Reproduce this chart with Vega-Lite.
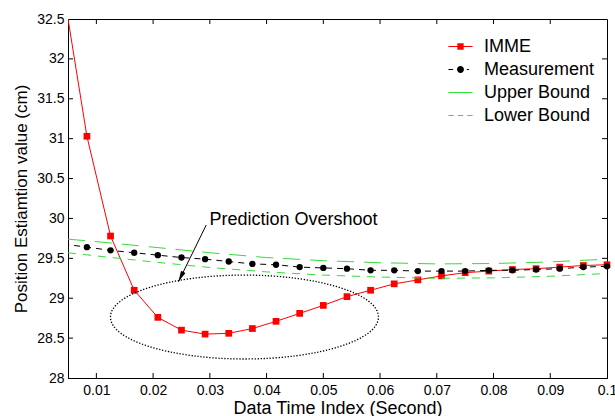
{
  "$schema": "https://vega.github.io/schema/vega-lite/v6.json",
  "width": 539,
  "height": 359,
  "autosize": {"type": "none"},
  "padding": {"left": 68, "top": 19, "right": 8, "bottom": 38},
  "background": "white",
  "config": {
    "font": "Liberation Sans",
    "view": {"stroke": "black", "strokeWidth": 1},
    "axis": {
      "domainColor": "black",
      "labelColor": "black",
      "titleColor": "black",
      "labelFontSize": 14,
      "titleFontSize": 17,
      "titleFontWeight": "normal",
      "ticks": false,
      "grid": false,
      "labelOverlap": false
    }
  },
  "datasets": {
    "series": [
      {"t": 0.004167, "v": 32.87, "s": "IMME"},
      {"t": 0.008333, "v": 31.03, "s": "IMME"},
      {"t": 0.0125, "v": 29.78, "s": "IMME"},
      {"t": 0.016667, "v": 29.10, "s": "IMME"},
      {"t": 0.020833, "v": 28.76, "s": "IMME"},
      {"t": 0.025, "v": 28.60, "s": "IMME"},
      {"t": 0.029167, "v": 28.55, "s": "IMME"},
      {"t": 0.033333, "v": 28.56, "s": "IMME"},
      {"t": 0.0375, "v": 28.62, "s": "IMME"},
      {"t": 0.041667, "v": 28.71, "s": "IMME"},
      {"t": 0.045833, "v": 28.81, "s": "IMME"},
      {"t": 0.05, "v": 28.91, "s": "IMME"},
      {"t": 0.054167, "v": 29.02, "s": "IMME"},
      {"t": 0.058333, "v": 29.10, "s": "IMME"},
      {"t": 0.0625, "v": 29.18, "s": "IMME"},
      {"t": 0.066667, "v": 29.23, "s": "IMME"},
      {"t": 0.070833, "v": 29.28, "s": "IMME"},
      {"t": 0.075, "v": 29.32, "s": "IMME"},
      {"t": 0.079167, "v": 29.34, "s": "IMME"},
      {"t": 0.083333, "v": 29.36, "s": "IMME"},
      {"t": 0.0875, "v": 29.37, "s": "IMME"},
      {"t": 0.091667, "v": 29.39, "s": "IMME"},
      {"t": 0.095833, "v": 29.41, "s": "IMME"},
      {"t": 0.1, "v": 29.42, "s": "IMME"},
      {"t": 0.004167, "v": 29.68, "s": "Measurement"},
      {"t": 0.008333, "v": 29.64, "s": "Measurement"},
      {"t": 0.0125, "v": 29.60, "s": "Measurement"},
      {"t": 0.016667, "v": 29.57, "s": "Measurement"},
      {"t": 0.020833, "v": 29.54, "s": "Measurement"},
      {"t": 0.025, "v": 29.51, "s": "Measurement"},
      {"t": 0.029167, "v": 29.49, "s": "Measurement"},
      {"t": 0.033333, "v": 29.46, "s": "Measurement"},
      {"t": 0.0375, "v": 29.43, "s": "Measurement"},
      {"t": 0.041667, "v": 29.42, "s": "Measurement"},
      {"t": 0.045833, "v": 29.39, "s": "Measurement"},
      {"t": 0.05, "v": 29.38, "s": "Measurement"},
      {"t": 0.054167, "v": 29.37, "s": "Measurement"},
      {"t": 0.058333, "v": 29.35, "s": "Measurement"},
      {"t": 0.0625, "v": 29.35, "s": "Measurement"},
      {"t": 0.066667, "v": 29.34, "s": "Measurement"},
      {"t": 0.070833, "v": 29.34, "s": "Measurement"},
      {"t": 0.075, "v": 29.34, "s": "Measurement"},
      {"t": 0.079167, "v": 29.35, "s": "Measurement"},
      {"t": 0.083333, "v": 29.35, "s": "Measurement"},
      {"t": 0.0875, "v": 29.36, "s": "Measurement"},
      {"t": 0.091667, "v": 29.37, "s": "Measurement"},
      {"t": 0.095833, "v": 29.39, "s": "Measurement"},
      {"t": 0.1, "v": 29.40, "s": "Measurement"},
      {"t": 0.005, "v": 29.74, "s": "Upper Bound"},
      {"t": 0.01, "v": 29.71, "s": "Upper Bound"},
      {"t": 0.02, "v": 29.64, "s": "Upper Bound"},
      {"t": 0.03, "v": 29.57, "s": "Upper Bound"},
      {"t": 0.04, "v": 29.51, "s": "Upper Bound"},
      {"t": 0.05, "v": 29.47, "s": "Upper Bound"},
      {"t": 0.06, "v": 29.445, "s": "Upper Bound"},
      {"t": 0.07, "v": 29.43, "s": "Upper Bound"},
      {"t": 0.08, "v": 29.435, "s": "Upper Bound"},
      {"t": 0.09, "v": 29.455, "s": "Upper Bound"},
      {"t": 0.1, "v": 29.49, "s": "Upper Bound"},
      {"t": 0.005, "v": 29.57, "s": "Lower Bound"},
      {"t": 0.01, "v": 29.53, "s": "Lower Bound"},
      {"t": 0.02, "v": 29.455, "s": "Lower Bound"},
      {"t": 0.03, "v": 29.385, "s": "Lower Bound"},
      {"t": 0.04, "v": 29.33, "s": "Lower Bound"},
      {"t": 0.05, "v": 29.29, "s": "Lower Bound"},
      {"t": 0.06, "v": 29.265, "s": "Lower Bound"},
      {"t": 0.07, "v": 29.25, "s": "Lower Bound"},
      {"t": 0.08, "v": 29.255, "s": "Lower Bound"},
      {"t": 0.09, "v": 29.275, "s": "Lower Bound"},
      {"t": 0.1, "v": 29.31, "s": "Lower Bound"}
    ],
    "xticks": [{"t": 0.01}, {"t": 0.02}, {"t": 0.03}, {"t": 0.04}, {"t": 0.05}, {"t": 0.06}, {"t": 0.07}, {"t": 0.08}, {"t": 0.09}],
    "yticks": [{"v": 28.5}, {"v": 29}, {"v": 29.5}, {"v": 30}, {"v": 30.5}, {"v": 31}, {"v": 31.5}, {"v": 32}],
    "ellipse": [{"t": 0.0361, "v": 28.764}],
    "arrow": [{"t": 0.02936, "v": 29.917, "t2": 0.02447, "v2": 29.207}],
    "head": [{"t": 0.02489, "v": 29.268}],
    "note": [{"t": 0.02994, "v": 29.92, "label": "Prediction Overshoot"}]
  },
  "resolve": {"axis": {"x": "independent", "y": "independent"}},
  "layer": [
    {
      "data": {"name": "series"},
      "transform": [{"filter": "datum.s === 'IMME'"}],
      "mark": {"type": "line", "color": "#ff0000", "strokeWidth": 1, "clip": true},
      "encoding": {
        "x": {"field": "t", "type": "quantitative", "scale": {"domain": [0.005, 0.1], "nice": false, "zero": false},
              "axis": {"orient": "bottom", "title": "Data Time Index (Second)", "titleFontSize": 18, "values": [0.01, 0.02, 0.03, 0.04, 0.05, 0.06, 0.07, 0.08, 0.09, 0.1], "format": "~g", "labelPadding": 5, "titlePadding": 2, "labelFlush": false, "labelOverlap": false}},
        "y": {"field": "v", "type": "quantitative", "scale": {"domain": [28, 32.5], "nice": false, "zero": false},
              "axis": {"orient": "left", "title": "Position Estiamtion value (cm)", "values": [28, 28.5, 29, 29.5, 30, 30.5, 31, 31.5, 32, 32.5], "format": "~g", "labelPadding": 4, "titlePadding": 6, "labelFlush": false, "labelOverlap": false}}
      }
    },
    {
      "data": {"name": "xticks"},
      "mark": {"type": "rule", "color": "#000000", "strokeWidth": 1},
      "encoding": {"x": {"field": "t", "type": "quantitative", "axis": null}, "y": {"datum": 28, "axis": null}, "y2": {"datum": 28.063}}
    },
    {
      "data": {"name": "xticks"},
      "mark": {"type": "rule", "color": "#000000", "strokeWidth": 1},
      "encoding": {"x": {"field": "t", "type": "quantitative", "axis": null}, "y": {"datum": 32.5, "axis": null}, "y2": {"datum": 32.437}}
    },
    {
      "data": {"name": "yticks"},
      "mark": {"type": "rule", "color": "#000000", "strokeWidth": 1},
      "encoding": {"y": {"field": "v", "type": "quantitative", "axis": null}, "x": {"datum": 0.005, "axis": null}, "x2": {"datum": 0.00588}}
    },
    {
      "data": {"name": "yticks"},
      "mark": {"type": "rule", "color": "#000000", "strokeWidth": 1},
      "encoding": {"y": {"field": "v", "type": "quantitative", "axis": null}, "x": {"datum": 0.1, "axis": null}, "x2": {"datum": 0.09912}}
    },
    {
      "data": {"name": "series"},
      "transform": [{"filter": "datum.s === 'IMME' && datum.t > 0.006"}],
      "mark": {"type": "point", "shape": "square", "filled": true, "color": "#ff0000", "opacity": 1, "size": 45},
      "encoding": {
        "x": {"field": "t", "type": "quantitative", "axis": null},
        "y": {"field": "v", "type": "quantitative", "axis": null}
      }
    },
    {
      "data": {"name": "series"},
      "transform": [{"filter": "datum.s === 'Measurement'"}],
      "mark": {"type": "line", "color": "#000000", "strokeWidth": 1, "strokeDash": [6, 5], "clip": true},
      "encoding": {
        "x": {"field": "t", "type": "quantitative", "axis": null},
        "y": {"field": "v", "type": "quantitative", "axis": null}
      }
    },
    {
      "data": {"name": "series"},
      "transform": [{"filter": "datum.s === 'Measurement' && datum.t > 0.006"}],
      "mark": {"type": "point", "shape": "circle", "filled": true, "color": "#000000", "opacity": 1, "size": 40},
      "encoding": {
        "x": {"field": "t", "type": "quantitative", "axis": null},
        "y": {"field": "v", "type": "quantitative", "axis": null}
      }
    },
    {
      "data": {"name": "series"},
      "transform": [{"filter": "datum.s === 'Upper Bound'"}],
      "mark": {"type": "line", "color": "#33dd33", "strokeWidth": 1, "strokeDash": [17, 10]},
      "encoding": {
        "x": {"field": "t", "type": "quantitative", "axis": null},
        "y": {"field": "v", "type": "quantitative", "axis": null}
      }
    },
    {
      "data": {"name": "series"},
      "transform": [{"filter": "datum.s === 'Lower Bound'"}],
      "mark": {"type": "line", "color": "#33dd33", "strokeWidth": 1, "strokeDash": [8, 7]},
      "encoding": {
        "x": {"field": "t", "type": "quantitative", "axis": null},
        "y": {"field": "v", "type": "quantitative", "axis": null}
      }
    },
    {
      "data": {"name": "ellipse"},
      "mark": {"type": "point", "shape": "M-1,0A1,0.313 0 1,1 1,0A1,0.313 0 1,1 -1,0Z", "size": 71824, "filled": false, "stroke": "#000000", "strokeWidth": 1.3, "strokeDash": [1.3, 1.7], "opacity": 1},
      "encoding": {
        "x": {"field": "t", "type": "quantitative", "axis": null},
        "y": {"field": "v", "type": "quantitative", "axis": null}
      }
    },
    {
      "data": {"name": "arrow"},
      "mark": {"type": "rule", "color": "#000000", "strokeWidth": 1},
      "encoding": {
        "x": {"field": "t", "type": "quantitative", "axis": null},
        "y": {"field": "v", "type": "quantitative", "axis": null},
        "x2": {"field": "t2"},
        "y2": {"field": "v2"}
      }
    },
    {
      "data": {"name": "head"},
      "mark": {"type": "point", "shape": "M0,-1L0.45,1L-0.45,1Z", "filled": true, "color": "#000000", "opacity": 1, "size": 120, "angle": 206},
      "encoding": {
        "x": {"field": "t", "type": "quantitative", "axis": null},
        "y": {"field": "v", "type": "quantitative", "axis": null}
      }
    },
    {
      "data": {"name": "note"},
      "mark": {"type": "text", "align": "left", "baseline": "alphabetic", "fontSize": 18, "color": "#000000"},
      "encoding": {
        "x": {"field": "t", "type": "quantitative", "axis": null},
        "y": {"field": "v", "type": "quantitative", "axis": null},
        "text": {"field": "label"}
      }
    },
    {
      "data": {"name": "series"},
      "transform": [{"filter": "false"}],
      "mark": {"type": "point", "filled": true, "opacity": 1},
      "encoding": {
        "x": {"field": "t", "type": "quantitative", "axis": null},
        "y": {"field": "v", "type": "quantitative", "axis": null},
        "color": {"field": "s", "type": "nominal",
                  "scale": {"domain": ["IMME", "Measurement", "Upper Bound", "Lower Bound"], "range": ["#ff0000", "#000000", "#33dd33", "#33dd33"]},
                  "legend": {"orient": "none", "legendX": 381, "legendY": 16, "title": null, "labelFontSize": 18, "labelColor": "#000000", "symbolSize": 441, "rowPadding": 2, "labelOffset": 12, "padding": 0,
                             "encode": {"symbols": {"update": {"fill": {"scale": "color", "field": "value"}, "opacity": {"value": 1}}}}}},
        "shape": {"field": "s", "type": "nominal",
                  "scale": {"domain": ["IMME", "Measurement", "Upper Bound", "Lower Bound"],
                            "range": ["M-1.15,-0.05H1.15V0.05H-1.15ZM-0.3,-0.3H0.3V0.3H-0.3Z", "M-1.15,-0.05H-0.7V0.05H-1.15ZM0.6,-0.05H0.8V0.05H0.6ZM-0.33,0A0.33,0.33 0 1,0 0.33,0A0.33,0.33 0 1,0 -0.33,0Z", "M-1.15,-0.05H1.15V0.05H-1.15Z", "M-1.15,-0.05H-0.65V0.05H-1.15ZM-0.25,-0.05H0.25V0.05H-0.25ZM0.65,-0.05H1.15V0.05H0.65Z"]},
                  "legend": {"orient": "none", "legendX": 381, "legendY": 16, "title": null, "labelFontSize": 18, "labelColor": "#000000", "symbolSize": 441, "rowPadding": 2, "labelOffset": 12, "padding": 0,
                             "encode": {"symbols": {"update": {"fill": {"scale": "color", "field": "value"}, "opacity": {"value": 1}}}}}}
      }
    }
  ]
}
